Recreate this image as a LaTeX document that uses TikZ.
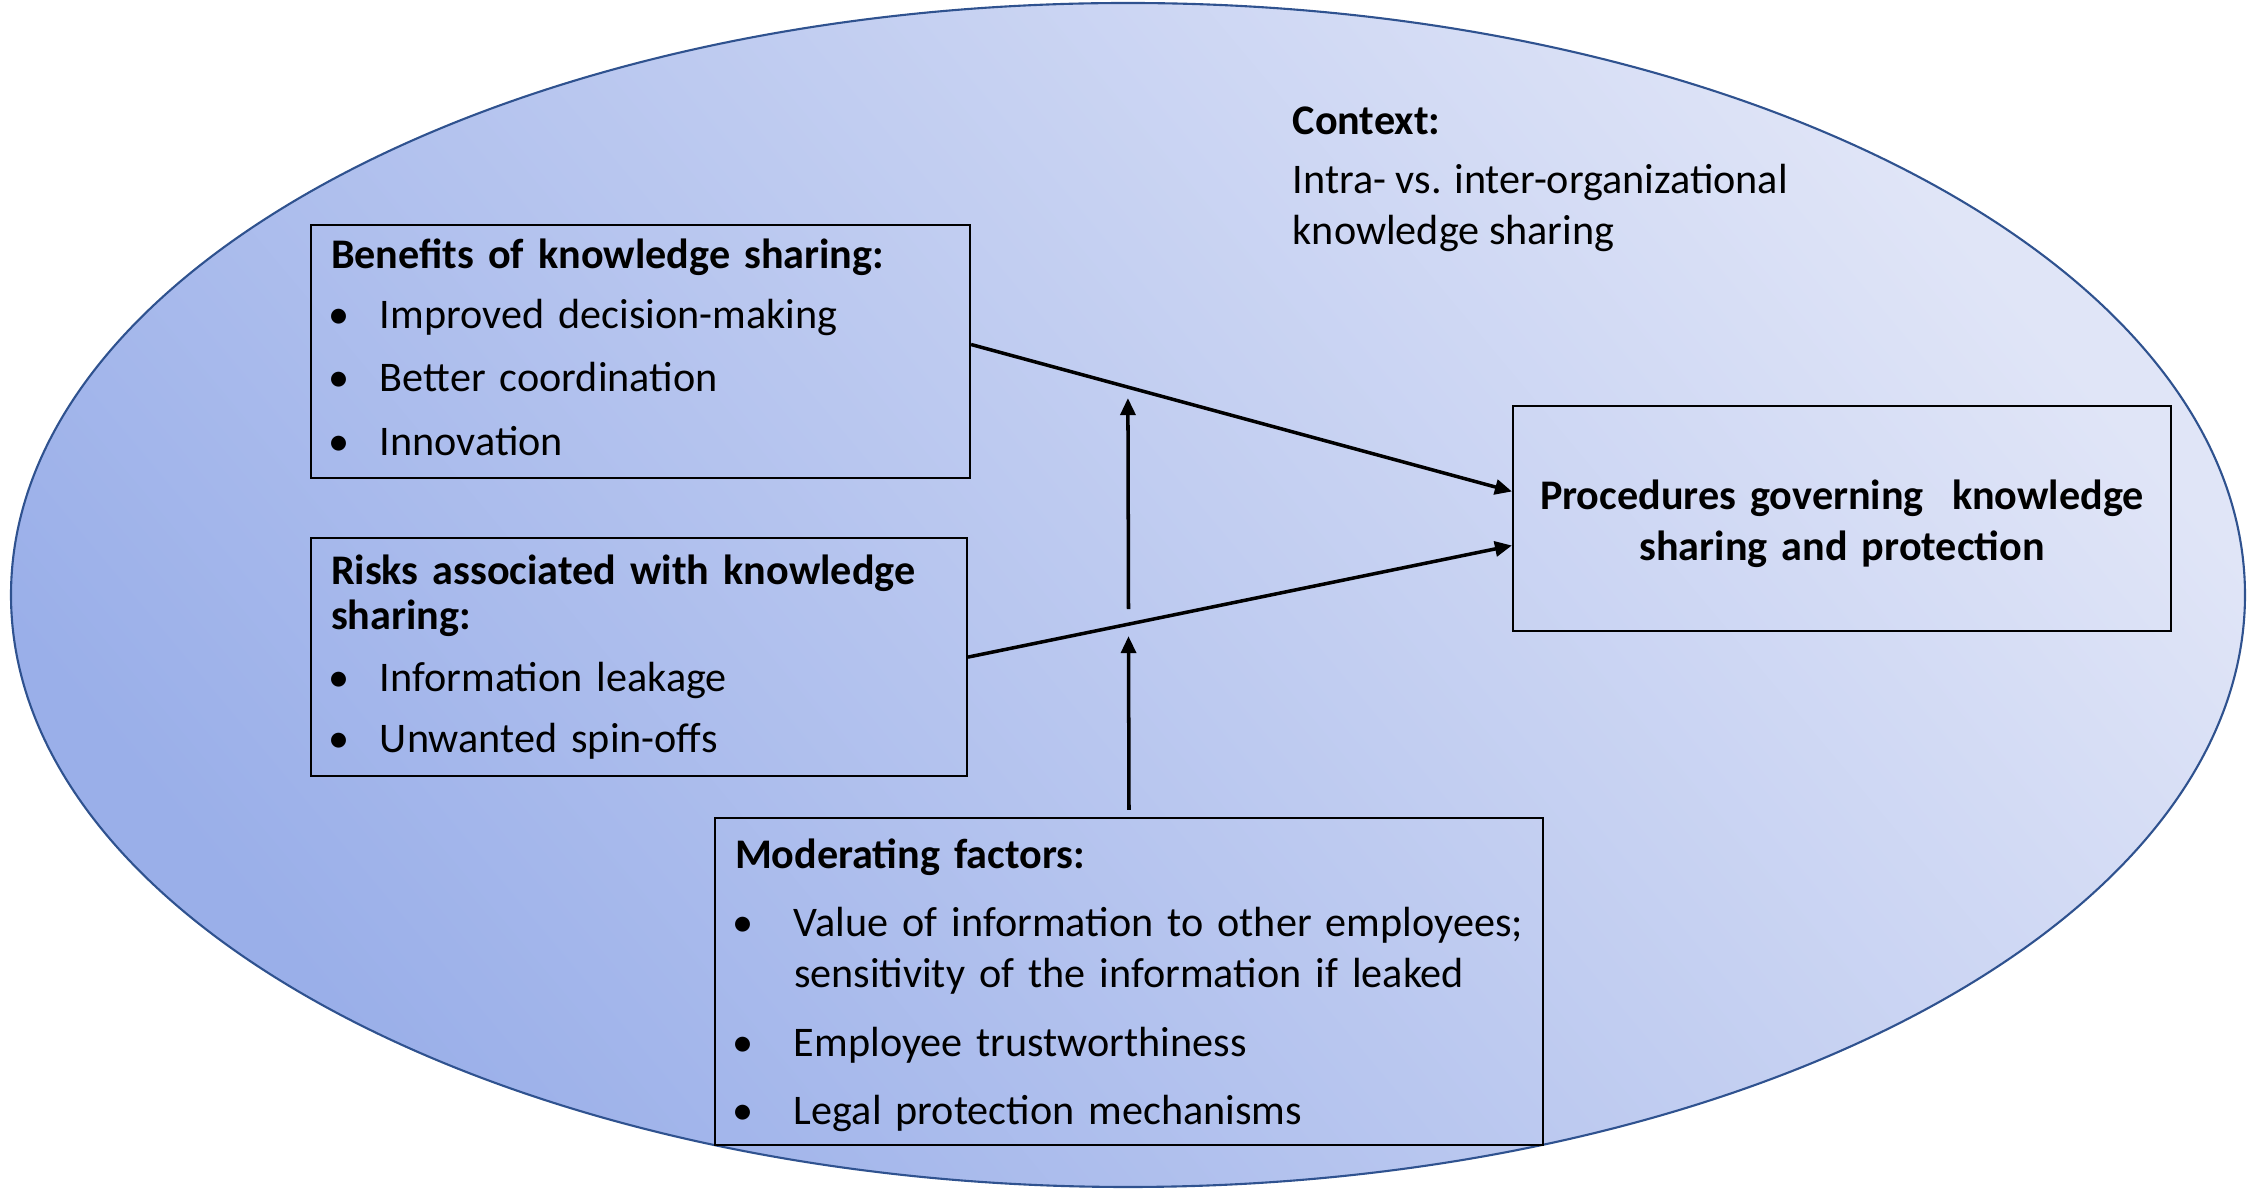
\documentclass[tikz,border=0pt]{standalone}
\usepackage{fontspec}
\setmainfont{Carlito}
\usetikzlibrary{positioning,arrows.meta}
\definecolor{rim}{HTML}{2F528F}
\definecolor{darkfill}{HTML}{9AAFE9}
\definecolor{lightfill}{HTML}{E0E5F7}
\tikzset{
	box/.style = {
		draw = black,
		line width = 0.6pt,
		rectangle,
		inner xsep = 2mm,
		align = left,
		font = \fontsize{12}{14.5}\selectfont
	},
	arr/.style = {
		-{Triangle[length=1.7mm,width=1.5mm]},
		line width = 1pt
	}
}
\newcommand\bul[1]{\hspace*{-0.25mm}\makebox[#1][l]{\textbullet}}

\begin{document}
\begin{tikzpicture}
    \useasboundingbox (0,0) rectangle (22.59,11.89);
    \path [draw = rim, line width = 0.6pt, left color = darkfill, right color = lightfill, shading angle = 130] (11.28,5.94) ellipse [x radius = 11.17, y radius = 5.92];

    \node [box, minimum height = 2.53cm, text width = 6.19cm] (ben) at (6.405,8.375) {\textbf{Benefits of knowledge sharing:}\\[2.5pt] \bul{5.15mm}Improved decision-making\\[3.5pt] \bul{5.15mm}Better coordination\\[3.5pt] \bul{5.15mm}Innovation\rule[-2.5pt]{0pt}{0pt}} ;
    \node [box, below = 5.8mm of ben.south west, anchor = north west, minimum height = 2.38cm, text width = 6.16cm] (risk) {\textbf{Risks associated with knowledge}\\[-1.5pt] \textbf{sharing:}\\[3pt] \bul{5.15mm}Information leakage\\[3pt] \bul{5.15mm}Unwanted spin-offs} ;
    \node [box, minimum height = 2.25cm, text width = 6.18cm, align = center, font = \fontsize{12}{14.7}\selectfont\bfseries] (proc) at (18.42,6.705) {\rule{0pt}{11.5pt}Procedures governing\ \ knowledge\\ sharing and protection} ;
    \node [box, minimum height = 3.27cm, text width = 7.88cm] (mod) at (11.29,2.075) {\rule{0pt}{10.5pt}\textbf{Moderating factors:}\\[5pt] \bul{6.15mm}Value of information to other employees;\\ \hspace*{5.9mm}sensitivity of the information if leaked\\[5pt] \bul{6.15mm}Employee trustworthiness\\[5pt] \bul{6.15mm}Legal protection mechanisms} ;
    \node [align = left, inner sep = 0pt, anchor = north west, font = \fontsize{12}{14.7}\selectfont] (ctx) at (12.92,10.83) {\textbf{Context:}\\[2pt] Intra- vs. inter-organizational\\ knowledge sharing} ;

    \draw [arr] ([yshift = 0.7mm]ben.east) -- coordinate [pos = 0.29] (bm) ([yshift = 2.7mm]proc.west) ;
    \draw [arr] (risk.east) -- coordinate [pos = 0.295] (rm) ([yshift = -2.7mm]proc.west) ;
    \draw [arr] ([yshift = 0.7mm]mod.north) -- ([yshift = -1.2mm]rm) ;
    \draw [arr] ([yshift = 1.5mm]rm) -- ([yshift = -1.1mm]bm) ;
\end{tikzpicture}
\end{document}
